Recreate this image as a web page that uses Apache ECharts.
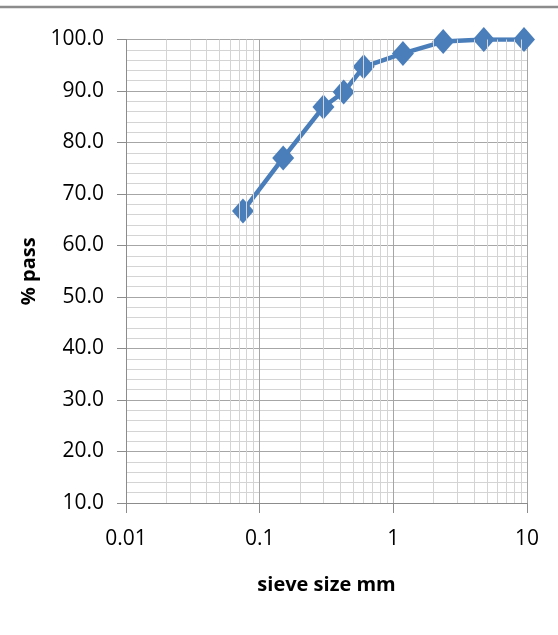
<!DOCTYPE html>
<html>
<head>
<meta charset="utf-8">
<style>
html,body{margin:0;padding:0;background:#fff;}
#chart{width:558px;height:635px;}
</style>
<script src="https://cdn.jsdelivr.net/npm/echarts@6/dist/echarts.min.js"></script>
</head>
<body>
<div id="chart"></div>
<script>
// sieve size (mm) and % passing
var sieveSizes = [0.075, 0.15, 0.3, 0.425, 0.6, 1.18, 2.36, 4.75, 9.5];
var percentPass = [66.7, 77.0, 86.9, 89.8, 94.7, 97.3, 99.6, 100.0, 100.0];
var xDecades = [0.01, 0.1, 1];
var minorMultipliers = [2, 3, 4, 5, 6, 7, 8, 9];

var minorLines = [];
xDecades.forEach(function (d) {
  minorMultipliers.forEach(function (m) {
    minorLines.push({ xAxis: +(d * m).toPrecision(3) });
  });
});

var chart = echarts.init(document.getElementById('chart'));
var FONT = 'Open Sans';
chart.setOption({
  animation: false,
  backgroundColor: '#ffffff',
  graphic: [{
    type: 'line',
    shape: { x1: 0, y1: 7, x2: 558, y2: 7 },
    style: { stroke: '#8c8c8c', lineWidth: 2.5 },
    silent: true
  }],
  grid: { left: 126, right: 31, top: 39.5, bottom: 132, containLabel: false },
  xAxis: {
    type: 'log',
    logBase: 10,
    min: 0.01,
    max: 10,
    name: 'sieve size mm',
    nameLocation: 'middle',
    nameGap: 72,
    nameTextStyle: { fontFamily: FONT, fontWeight: 'bold', fontSize: 20, color: '#000' },
    axisLine: { show: true, onZero: false, lineStyle: { color: '#8c8c8c', width: 1 } },
    axisTick: { show: true, length: 10, inside: false, lineStyle: { color: '#8c8c8c' } },
    axisLabel: {
      fontFamily: FONT, fontSize: 21, color: '#000', margin: 26,
      formatter: function (v) { return String(+v.toPrecision(3)); }
    },
    splitLine: { show: true, lineStyle: { color: '#a6a6a6', width: 1 } }
  },
  yAxis: {
    type: 'value',
    min: 10,
    max: 100,
    interval: 10,
    name: '% pass',
    nameLocation: 'middle',
    nameGap: 84,
    nameRotate: 90,
    nameTextStyle: { fontFamily: FONT, fontWeight: 'bold', fontSize: 20, color: '#000' },
    axisLine: { show: true, lineStyle: { color: '#8c8c8c', width: 1 } },
    axisTick: { show: true, length: 9, inside: false, lineStyle: { color: '#8c8c8c' } },
    axisLabel: {
      fontFamily: FONT, fontSize: 21, color: '#000', margin: 22,
      formatter: function (v) { return v.toFixed(1); }
    },
    splitLine: { show: true, lineStyle: { color: '#a6a6a6', width: 1 } },
    minorTick: { show: false, splitNumber: 5 },
    minorSplitLine: { show: true, lineStyle: { color: '#d4d4d4', width: 1 } }
  },
  series: [{
    type: 'line',
    data: [],
    z: 1,
    silent: true,
    markLine: {
      silent: true,
      symbol: ['none', 'none'],
      label: { show: false },
      animation: false,
      lineStyle: { color: '#d4d4d4', width: 1, type: 'solid' },
      data: minorLines
    }
  }, {
    type: 'line',
    z: 3,
    data: sieveSizes.map(function (s, i) { return [s, percentPass[i]]; }),
    symbol: 'diamond',
    symbolSize: [22, 25],
    lineStyle: { color: '#4a7ebb', width: 4.5 },
    itemStyle: { color: '#4a7ebb' }
  }]
});
</script>
</body>
</html>
